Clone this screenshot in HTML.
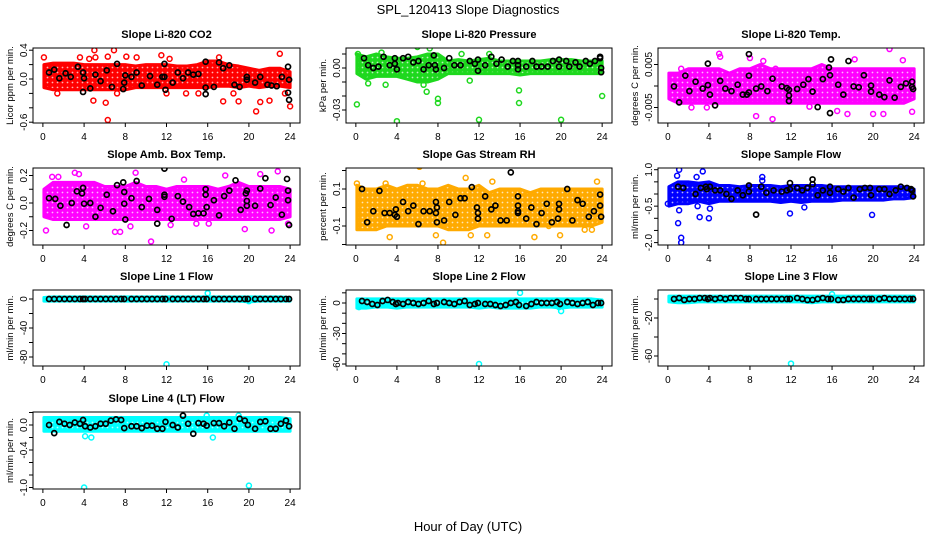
<!DOCTYPE html>
<html><head><meta charset="utf-8">
<style>
html,body{margin:0;padding:0;background:#fff;}
svg{display:block;font-family:"Liberation Sans",sans-serif;}
</style></head>
<body>
<svg id="fig" width="936" height="540" viewBox="0 0 936 540" xmlns="http://www.w3.org/2000/svg">
<text x="468" y="14" text-anchor="middle" font-size="13">SPL_120413  Slope Diagnostics</text>
<text x="468" y="531" text-anchor="middle" font-size="13">Hour of Day (UTC)</text>
</svg>
<script>
// ---------- data arrays ----------
const hours = [0,1,2,3,4,5,6,7,8,9,10,11,12,13,14,15,16,17,18,19,20,21,22,23,24];
const xTicks = [0,4,8,12,16,20,24];

// Panel 1: CO2
const co2Hi = [0.2,0.22,0.22,0.22,0.2,0.2,0.2,0.2,0.2,0.18,0.2,0.2,0.2,0.18,0.18,0.2,0.25,0.25,0.2,0.18,0.15,0.12,0.15,0.15,0.1];
const co2Lo = [-0.12,-0.15,-0.15,-0.15,-0.15,-0.15,-0.15,-0.15,-0.15,-0.12,-0.12,-0.12,-0.12,-0.12,-0.12,-0.12,-0.12,-0.1,-0.1,-0.12,-0.1,-0.12,-0.1,-0.1,-0.12];
const co2OutX = [0.1,1.4,3.7,3.6,4.5,5,5.1,4.9,6.1,6.3,6.9,6.3,7.2,8.1,9.1,11.5,12.3,12,13.9,15.1,17.1,17.5,18.5,19,20.7,21.1,22,23,23.5,24];
const co2OutY = [0.3,-0.2,0.47,0.3,0.28,0.4,0.3,-0.3,-0.33,-0.57,0.4,0.31,-0.2,0.31,0.3,0.33,0.28,-0.2,-0.2,-0.2,0.3,-0.31,-0.2,-0.31,-0.45,-0.32,-0.3,0.35,-0.2,-0.38];
const co2BlkX = [0.6,1.1,1.6,2.2,2.7,3.4,3.9,4,3.9,4.6,5.1,5.6,6.2,6.7,7.2,7.8,7.9,8,8.6,9.1,9.6,10.4,11.1,11.6,11.8,11.8,11.9,12.6,13.1,13.6,14.1,14.6,15.1,15.8,15.8,15.8,16.6,17.1,17.5,18.1,18.6,19.1,19.8,19.8,20.6,21.1,21.8,22.2,22.7,23.2,23.8,23.9,23.8,23.9];
const co2BlkY = [0.09,0.13,0.01,0.08,0.03,0.17,-0.18,0.01,0.09,-0.13,0.06,-0.03,0.12,-0.11,0.21,-0.14,-0.05,0.05,0.03,0.09,-0.09,0.04,-0.08,0.03,0.21,0.03,-0.15,-0.05,0.09,0.01,0.09,0.06,0.07,0.24,-0.12,-0.21,-0.11,0.23,0.15,0.19,-0.08,-0.11,0.03,-0.01,-0.05,0.03,-0.08,-0.09,-0.1,0.03,0.17,-0.01,-0.19,-0.29];

// Panel 2: Pressure
const prHi = [0.01,0.008,0.01,0.008,0.007,0.007,0.008,0.01,0.01,0.005,0.006,0.005,0.006,0.007,0.005,0.005,0.005,0.005,0.005,0.006,0.006,0.006,0.005,0.005,0.005];
const prLo = [-0.004,-0.008,-0.006,-0.006,-0.006,-0.008,-0.01,-0.01,-0.008,-0.004,-0.004,-0.004,-0.004,-0.004,-0.004,-0.004,-0.005,-0.004,-0.004,-0.004,-0.004,-0.004,-0.004,-0.004,-0.004];
const prOutX = [0.1,1.2,2.9,4,6,6.6,6.9,7.2,8,8,10.3,11.1,12,13,15.9,15.9,20,24,2.5,0.2];
const prOutY = [-0.026,-0.011,-0.012,-0.038,0.015,-0.012,-0.017,0.014,-0.022,-0.025,0.01,-0.009,-0.037,0.01,-0.016,-0.025,-0.037,-0.02,0.011,0.01];
const prBlkX = [0.8,1.2,1.7,2.2,2.7,3.3,3.8,3.8,4,4.6,5.1,5.6,6.1,6.6,7.1,7.6,7.7,7.8,8.6,9.1,9.6,10.2,11.1,11.6,11.9,11.9,12.6,13.2,13.7,14.2,14.8,15.3,15.8,15.8,15.8,16.6,17.2,17.6,18.1,18.7,19.2,19.8,19.8,20.5,20.8,21.4,21.8,22.4,22.8,23.3,23.8,23.8,23.9,23.9];
const prBlkY = [0.007,0.002,0.0,0.001,0.008,0.002,0.007,0.003,-0.001,0.007,0.008,0.004,0.005,-0.001,0.002,0.009,0.002,-0.001,0.0,0.007,0.002,0.002,0.005,0.003,0.006,-0.002,0.002,0.008,0.003,0.006,0.001,0.005,0.005,0.002,-0.001,0.001,0.005,0.001,0.001,0.001,0.005,0.006,0.001,0.005,0.001,0.004,0.001,0.005,0.003,0.005,0.008,0.007,0.0,-0.003];

// Panel 3: Li-820 Temp
const tpHi = [0.003,0.003,0.004,0.004,0.004,0.004,0.003,0.004,0.004,0.005,0.004,0.004,0.004,0.004,0.004,0.005,0.004,0.004,0.004,0.004,0.004,0.004,0.004,0.004,0.004];
const tpLo = [-0.003,-0.004,-0.004,-0.004,-0.004,-0.004,-0.004,-0.004,-0.004,-0.004,-0.004,-0.004,-0.004,-0.004,-0.004,-0.004,-0.004,-0.004,-0.004,-0.004,-0.004,-0.004,-0.004,-0.004,-0.003];
const tpOutX = [5,5.1,8.6,10.2,18.2,21.6,22.9,20,21,16.5,17.5,13.8,3.8,2.3,23.8,8,9.3,1.3,10.5];
const tpOutY = [0.0075,0.0068,-0.007,-0.0077,0.0062,0.0086,0.006,-0.0065,-0.0065,-0.0058,-0.0065,-0.0048,-0.005,-0.005,-0.006,0.0065,0.0058,0.004,0.004];
const tpBlkX = [0.6,1.1,1.7,2.1,2.7,3.4,3.9,3.9,4.1,4.6,5.1,5.6,6.2,6.8,7.3,7.7,7.9,7.9,7.9,8.6,9.1,9.7,10.2,11.1,11.6,11.8,11.8,11.8,12.6,13.2,13.7,14.1,14.6,15.1,15.7,15.8,15.8,15.9,16.6,17.1,17.6,18.1,18.6,19.1,19.8,19.8,20.6,21.1,21.6,22.1,22.7,23.2,23.8,23.8,23.9];
const tpBlkY = [-0.0001,-0.0038,0.0024,-0.0012,0.001,-0.0006,0.0052,0.0002,-0.002,-0.0045,0.0012,-0.0006,-0.0012,0.0003,-0.002,-0.002,0.0074,0.0024,-0.0015,-0.0006,-0.0001,-0.0012,0.0017,-0.0001,-0.0005,-0.0009,-0.0022,-0.0035,-0.0007,0.0003,0.0016,-0.0013,-0.0049,0.0016,0.0043,0.0025,-0.0063,0.0062,0.0003,-0.002,0.0058,-0.0001,-0.0003,0.0025,0.0001,-0.0013,-0.002,-0.0026,0.0013,-0.0027,-0.0002,0.0006,0.001,-0.0002,-0.0007];

// Panel 4: Amb. Box Temp
const amHi = [0.1,0.15,0.15,0.15,0.15,0.15,0.12,0.12,0.12,0.15,0.12,0.12,0.1,0.12,0.12,0.12,0.12,0.1,0.12,0.15,0.12,0.12,0.12,0.12,0.1];
const amLo = [-0.1,-0.12,-0.12,-0.12,-0.12,-0.12,-0.12,-0.12,-0.12,-0.12,-0.12,-0.12,-0.12,-0.12,-0.12,-0.12,-0.12,-0.12,-0.12,-0.12,-0.12,-0.12,-0.12,-0.12,-0.1];
const amOutX = [0.3,0.9,1.5,3.1,3.5,4.2,7,7.5,8.5,9,10.5,12.4,13.7,17.7,19.6,21.1,22.2,22.8,23.8,14.9,16.1];
const amOutY = [-0.2,0.19,0.19,0.22,0.21,-0.17,-0.21,-0.21,-0.17,0.22,-0.28,-0.16,0.17,0.2,-0.19,0.21,-0.2,0.23,-0.15,-0.15,-0.15];
const amBlkX = [0.6,1.2,1.7,2.3,2.8,3.3,3.8,3.9,4,4.6,5.1,5.6,6.2,6.8,7.2,7.8,7.9,7.9,8,8.6,9.1,9.6,10.3,11.1,11.1,11.8,11.8,11.8,12.5,13.1,13.6,14.2,14.6,15.1,15.6,15.8,15.8,15.9,16.6,17.1,17.6,18.1,18.7,19.2,19.7,19.8,19.8,19.8,20.6,21.1,21.6,22.1,22.6,23.2,23.7,23.8,23.8,23.9];
const amBlkY = [0.035,0.03,-0.02,-0.16,0.0,0.085,0.07,0.11,-0.005,0.0,-0.1,-0.035,0.06,-0.06,0.13,0.15,0.08,-0.005,-0.12,0.035,0.16,-0.03,0.03,-0.15,-0.05,0.25,0.06,0.045,-0.115,0.05,0.01,-0.03,-0.08,-0.075,-0.075,0.1,0.06,-0.03,0.02,-0.09,0.05,0.09,0.165,-0.05,0.07,0.09,0.015,-0.02,-0.02,0.105,0.18,-0.015,0.04,-0.085,0.175,0.09,0.02,-0.16];

// Panel 5: Gas Stream RH
const rhHi = [0.12,0.1,0.1,0.12,0.1,0.12,0.12,0.1,0.1,0.12,0.1,0.1,0.12,0.08,0.1,0.1,0.1,0.08,0.1,0.1,0.1,0.1,0.1,0.1,0.1];
const rhLo = [-0.12,-0.12,-0.12,-0.1,-0.1,-0.1,-0.1,-0.1,-0.1,-0.12,-0.12,-0.12,-0.1,-0.1,-0.1,-0.1,-0.1,-0.1,-0.1,-0.1,-0.1,-0.1,-0.1,-0.1,-0.08];
const rhOutX = [0.1,2.9,6.2,6.5,10.7,3.3,7.8,8.5,11.2,12.8,13.3,13.4,17.1,17.4,18.6,19.9,22.3,23,23.5,18.8];
const rhOutY = [0.13,0.13,0.22,0.13,0.16,-0.16,-0.15,-0.19,-0.15,-0.15,0.14,-0.22,-0.22,-0.16,-0.23,-0.15,-0.12,-0.12,0.14,-0.1];
const rhBlkX = [0.6,1.1,1.7,2.3,2.8,3.3,3.8,3.9,4,4.6,5.1,5.6,6.1,6.6,7.2,7.8,7.8,7.9,7.9,8.6,9.1,9.7,10.2,10.6,11.3,11.8,11.9,11.9,12.6,13.2,13.6,14.1,14.7,15.1,15.8,15.8,15.8,15.8,16.6,17.1,17.6,18.1,18.6,19.1,19.7,19.8,19.8,20.6,21.1,21.6,22.1,22.7,23.2,23.8,23.8,23.9];
const rhBlkY = [0.1,-0.08,-0.02,0.09,-0.03,-0.03,-0.04,-0.01,-0.05,0.03,-0.02,0.01,-0.09,-0.02,-0.02,0.03,-0.03,-0.08,0.0,-0.07,0.03,-0.04,0.05,0.05,0.11,0.0,-0.03,-0.06,0.06,-0.01,0.01,-0.07,-0.07,0.19,0.06,0.01,-0.02,-0.03,-0.06,0.0,-0.09,-0.03,0.02,-0.08,-0.06,-0.01,0.02,0.1,-0.07,0.04,0.02,-0.05,-0.02,0.07,0.01,-0.05];

// Panel 6: Sample Flow
const sfHi = [0.3,0.5,0.5,0.45,0.5,0.35,0.35,0.3,0.35,0.35,0.35,0.3,0.35,0.35,0.35,0.35,0.3,0.3,0.3,0.3,0.3,0.3,0.3,0.3,0.2];
const sfLo = [-0.5,-0.4,-0.4,-0.3,-0.4,-0.3,-0.3,-0.3,-0.3,-0.3,-0.3,-0.35,-0.3,-0.35,-0.3,-0.3,-0.3,-0.25,-0.25,-0.25,-0.25,-0.25,-0.2,-0.2,-0.15];
const sfOutX = [1.1,0.9,1.1,1.0,1.3,1.3,3.4,2.8,3.1,4.0,4.1,9.2,9.2,11.9,19.9,0,2.9,13.3];
const sfOutY = [1.0,0.75,-0.67,-1.2,-1.8,-2.0,0.93,0.7,-0.95,-1.0,-0.6,0.7,0.55,-0.8,-0.86,-0.4,-0.5,-0.55];
const sfBlkX = [1.0,1.5,2.7,3.2,3.7,3.8,4.1,4.6,5.1,5.7,6.2,6.8,7.3,7.9,7.9,8.6,9.1,9.6,10.3,11.1,11.6,11.9,11.9,12.6,13.1,13.6,14.1,14.1,14.6,15.1,15.8,15.8,16.6,17.1,17.6,18.1,18.7,19.2,19.7,19.8,20.6,21.1,21.6,22.2,22.7,23.3,23.7,23.8,23.9];
const sfBlkY = [0.3,0.25,0.0,0.25,0.3,0.2,0.3,0.15,0.15,0.0,-0.2,0.15,-0.05,0.35,0.1,-0.85,0.3,0.05,0.15,0.1,0.15,0.45,0.2,0.25,0.15,0.25,0.6,0.4,-0.05,0.15,0.3,0.05,0.2,0.1,0.25,-0.15,0.2,0.25,0.25,-0.05,0.2,0.2,0.0,0.15,0.3,0.25,0.2,0.15,-0.1];

// Panels 7-10: line flows
const flowBlkX = [0.6,1.1,1.6,2.1,2.6,3.1,3.6,3.9,4.1,4.6,5.1,5.6,6.1,6.6,7.1,7.6,7.9,8.6,9.1,9.6,10.1,10.6,11.1,11.6,11.9,12.6,13.1,13.6,14.1,14.6,15.1,15.6,15.9,16.6,17.1,17.6,18.1,18.6,19.1,19.6,19.9,20.6,21.1,21.6,22.1,22.6,23.1,23.6,23.9];
const l1Hi = [2,3,3,3,3,3,3,3,3,3,3,3,3,3,3,3,3,3,3,3,3,3,3,3,2];
const l1Lo = [-3,-3,-3,-3,-3,-3,-3,-3,-3,-3,-3,-3,-3,-3,-3,-3,-3,-3,-3,-3,-4,-3,-3,-3,-3];
const l1OutX = [12,16,20];
const l1OutY = [-90,8,-3];
const l1BlkY = [0,0,0,0,0,0,0,0,0,0,0,0,0,0,0,0,0,0,0,0,0,0,0,0,0,0,0,0,0,0,0,0,0,0,0,0,0,0,0,0,0,0,0,0,0,0,0,0,0];
const l2Hi = [4,4,4,4,4,4,4,4,4,4,4,4,4,4,4,4,4,4,4,4,4,4,4,4,3];
const l2Lo = [-5,-5,-4,-4,-5,-4,-4,-4,-4,-4,-4,-4,-5,-4,-5,-5,-5,-5,-4,-4,-5,-4,-4,-4,-4];
const l2OutX = [12,16,20,19.8,0.3];
const l2OutY = [-60,10,-8,-4,-4];
const l2BlkY = [2,1,-1,-2,2,3,1,-1,0,-1,1,0,-1,0,2,-1,0,1,0,-1,1,2,-2,-1,0,-1,-1,-2,-3,-2,0,1,-2,-3,-1,1,0,0,0,1,-1,1,0,-1,0,1,-2,0,0];
const l3Hi = [3,3,3,3,3,3,3,3,3,3,3,3,3,3,3,3,3,3,3,3,3,3,3,3,3];
const l3Lo = [-3,-4,-4,-3,-3,-3,-3,-3,-3,-3,-3,-3,-3,-3,-4,-3,-3,-3,-3,-3,-3,-3,-3,-3,-3];
const l3OutX = [12,16];
const l3OutY = [-68,5];
const l3BlkY = [0,1,-1,0,0,1,1,0,1,0,1,0,1,1,1,0,0,0,0,0,0,0,0,0,0,1,0,-1,-1,0,1,0,0,-1,-1,0,0,0,0,0,0,0,1,0,0,0,0,0,0];
const l4Hi = [0.12,0.12,0.12,0.12,0.12,0.12,0.12,0.12,0.12,0.12,0.12,0.12,0.12,0.12,0.12,0.12,0.12,0.12,0.12,0.12,0.12,0.12,0.12,0.12,0.1];
const l4Lo = [-0.1,-0.1,-0.1,-0.1,-0.1,-0.1,-0.1,-0.1,-0.1,-0.1,-0.1,-0.1,-0.1,-0.1,-0.1,-0.1,-0.1,-0.1,-0.1,-0.1,-0.1,-0.1,-0.1,-0.1,-0.1];
const l4OutX = [4,20,4.1,4.7,16.5,15.9,19];
const l4OutY = [-1.0,-0.97,-0.18,-0.2,-0.2,0.15,0.15];
const l4BlkY = [0.0,-0.13,0.05,0.02,0.0,0.04,0.02,0.08,-0.02,-0.04,-0.02,0.02,0.02,0.07,0.09,0.08,-0.05,-0.02,-0.02,-0.05,-0.01,-0.01,-0.06,-0.06,0.05,0.0,-0.04,0.15,0.02,-0.14,0.03,0.02,-0.01,0.03,0.03,-0.02,0.04,-0.06,0.1,0.07,0.0,-0.06,0.05,0.06,-0.06,-0.06,0.02,0.07,-0.02];

// ---------- layout ----------
const cols = [[33,300],[346,612],[658,924]];
const rows = [[48,123],[168,245],[290,366],[412,489]];
const NS = 'http://www.w3.org/2000/svg';
const svg = document.getElementById('fig');
function mk(tag, attrs, parent){ const e=document.createElementNS(NS,tag); for(const k in attrs) e.setAttribute(k,attrs[k]); (parent||svg).appendChild(e); return e; }
const defs = mk('defs',{});

const panels = [
 {key:'co2',title:'Slope Li-820 CO2',ylab:'Licor ppm per min.',col:0,row:0,ref:79,ppu:72,color:'#ff0000',hi:co2Hi,lo:co2Lo,ox:co2OutX,oy:co2OutY,bx:co2BlkX,by:co2BlkY,ticks:[-0.6,-0.4,-0.2,0,0.2,0.4],labels:{'-0.6':'-0.6','0':'0.0','0.4':'0.4'}},
 {key:'pressure',title:'Slope Li-820 Pressure',ylab:'kPa per min.',col:1,row:0,ref:68,ppu:1400,color:'#1ed81e',hi:prHi,lo:prLo,ox:prOutX,oy:prOutY,bx:prBlkX,by:prBlkY,ticks:[-0.03,-0.02,-0.01,0,0.01],labels:{'-0.03':'-0.03','0':'0.00'}},
 {key:'temp',title:'Slope Li-820 Temp.',ylab:'degrees C per min.',col:2,row:0,ref:86,ppu:4300,color:'#ff00ff',hi:tpHi,lo:tpLo,ox:tpOutX,oy:tpOutY,bx:tpBlkX,by:tpBlkY,ticks:[-0.005,0,0.005],labels:{'-0.005':'-0.005','0.005':'0.005'}},
 {key:'amb-temp',title:'Slope Amb. Box Temp.',ylab:'degrees C per min.',col:0,row:1,ref:203,ppu:137.5,color:'#ff00ff',hi:amHi,lo:amLo,ox:amOutX,oy:amOutY,bx:amBlkX,by:amBlkY,ticks:[-0.2,-0.1,0,0.1,0.2],labels:{'-0.2':'-0.2','0':'0.0','0.2':'0.2'}},
 {key:'gas-rh',title:'Slope Gas Stream RH',ylab:'percent per min.',col:1,row:1,ref:207.5,ppu:185,color:'#ffaa00',hi:rhHi,lo:rhLo,ox:rhOutX,oy:rhOutY,bx:rhBlkX,by:rhBlkY,ticks:[-0.2,-0.1,0,0.1,0.2],labels:{'-0.1':'-0.1','0.1':'0.1'}},
 {key:'sample-flow',title:'Slope Sample Flow',ylab:'ml/min per min.',col:2,row:1,ref:194,ppu:24.3,color:'#0000ff',hi:sfHi,lo:sfLo,ox:sfOutX,oy:sfOutY,bx:sfBlkX,by:sfBlkY,ticks:[-2,-1.5,-1,-0.5,0,0.5,1],labels:{'-2':'-2.0','-0.5':'-0.5','1':'1.0'}},
 {key:'line1',title:'Slope Line 1 Flow',ylab:'ml/min per min.',col:0,row:2,ref:299,ppu:0.725,color:'#00ffff',hi:l1Hi,lo:l1Lo,ox:l1OutX,oy:l1OutY,bx:flowBlkX,by:l1BlkY,ticks:[-80,-60,-40,-20,0],labels:{'-80':'-80','-40':'-40','0':'0'}},
 {key:'line2',title:'Slope Line 2 Flow',ylab:'ml/min per min.',col:1,row:2,ref:303,ppu:1.017,color:'#00ffff',hi:l2Hi,lo:l2Lo,ox:l2OutX,oy:l2OutY,bx:flowBlkX,by:l2BlkY,ticks:[-60,-50,-40,-30,-20,-10,0,10],labels:{'-60':'-60','-30':'-30','0':'0'}},
 {key:'line3',title:'Slope Line 3 Flow',ylab:'ml/min per min.',col:2,row:2,ref:299,ppu:0.95,color:'#00ffff',hi:l3Hi,lo:l3Lo,ox:l3OutX,oy:l3OutY,bx:flowBlkX,by:l3BlkY,ticks:[-60,-40,-20,0],labels:{'-60':'-60','-20':'-20'}},
 {key:'line4',title:'Slope Line 4 (LT) Flow',ylab:'ml/min per min.',col:0,row:3,ref:425,ppu:62.5,color:'#00ffff',hi:l4Hi,lo:l4Lo,ox:l4OutX,oy:l4OutY,bx:flowBlkX,by:l4BlkY,ticks:[-1,-0.8,-0.6,-0.4,-0.2,0,0.2],labels:{'-1':'-1.0','-0.4':'-0.4','0':'0.0'}}
];

panels.forEach(p=>{
  const [L,R]=cols[p.col], [T,B]=rows[p.row];
  const xs = h => L + (h+0.96)/25.92*(R-L);
  const ys = v => p.ref - v*p.ppu;
  const g = mk('g',{});
  
  
  const clipId='clip-'+p.key;
  const cp=mk('clipPath',{id:clipId},g); mk('rect',{x:L,y:T,width:R-L,height:B-T},cp);
  // ring-texture pattern for dense cloud
  const patId='pat-'+p.key;
  const pat=mk('pattern',{id:patId,width:5,height:5,patternUnits:'userSpaceOnUse'},defs);
  mk('rect',{x:0,y:0,width:5,height:5,fill:p.color},pat);
  mk('circle',{cx:2.5,cy:2.5,r:0.9,fill:'#fff','fill-opacity':0.7},pat);
  const plot=mk('g',{'clip-path':'url(#'+clipId+')'},g);
  
  
  let pts=[];
  hours.forEach((h,i)=>pts.push(xs(Math.max(0.1,Math.min(24,h)))+','+ys(p.hi[i])));
  for(let i=hours.length-1;i>=0;i--) pts.push(xs(Math.max(0.1,Math.min(24,hours[i])))+','+ys(p.lo[i]));
  const band=mk('polygon',{points:pts.join(' '),fill:'url(#'+patId+')',stroke:p.color,'stroke-width':3,'stroke-linejoin':'round'},plot);
  
  
  const n1=Math.min(p.ox.length,p.oy.length);
  for(let i=0;i<n1;i++){
    const c=mk('circle',{cx:xs(p.ox[i]),cy:ys(p.oy[i]),r:2.5,fill:'none',stroke:p.color,'stroke-width':1.5},plot);
    
    
  }
  const n2=Math.min(p.bx.length,p.by.length);
  for(let i=0;i<n2;i++){
    const c=mk('circle',{cx:xs(p.bx[i]),cy:ys(p.by[i]),r:2.5,fill:'none',stroke:'#000','stroke-width':1.7},plot);
    
    
  }
  const box=mk('rect',{x:L,y:T,width:R-L,height:B-T,fill:'none',stroke:'#000','stroke-width':1},g);
  
  
  const xa=mk('g',{},g);
  
  
  mk('line',{x1:xs(xTicks[0]),x2:xs(xTicks[xTicks.length-1]),y1:B,y2:B,stroke:'#000'},xa);
  xTicks.forEach(t=>{
    mk('line',{x1:xs(t),x2:xs(t),y1:B,y2:B+4,stroke:'#000'},xa);
    const tx=mk('text',{x:xs(t),y:B+17,'text-anchor':'middle','font-size':10},xa);
    tx.textContent=String(t);
    
    
  });
  const ya=mk('g',{},g);
  
  
  const tv=p.ticks;
  mk('line',{x1:L,x2:L,y1:ys(tv[0]),y2:ys(tv[tv.length-1]),stroke:'#000'},ya);
  tv.forEach(t=>{
    mk('line',{x1:L-4,x2:L,y1:ys(t),y2:ys(t),stroke:'#000'},ya);
    const lab=p.labels[String(t)];
    if(lab!==undefined){
      const tx=mk('text',{x:L-6,y:ys(t),'text-anchor':'middle','font-size':10,transform:'rotate(-90 '+(L-6)+' '+ys(t)+')'},ya);
      tx.textContent=lab;
      
      
    }
  });
  const cy=(T+B)/2;
  const yl=mk('text',{x:L-20,y:cy,'text-anchor':'middle','font-size':9.5,transform:'rotate(-90 '+(L-20)+' '+cy+')'},g);
  yl.textContent=p.ylab;
  
  
  const tt=mk('text',{x:(L+R)/2,y:T-10,'text-anchor':'middle','font-size':11,'font-weight':'bold'},g);
  tt.textContent=p.title;
  
  
});
</script>
</body></html>
